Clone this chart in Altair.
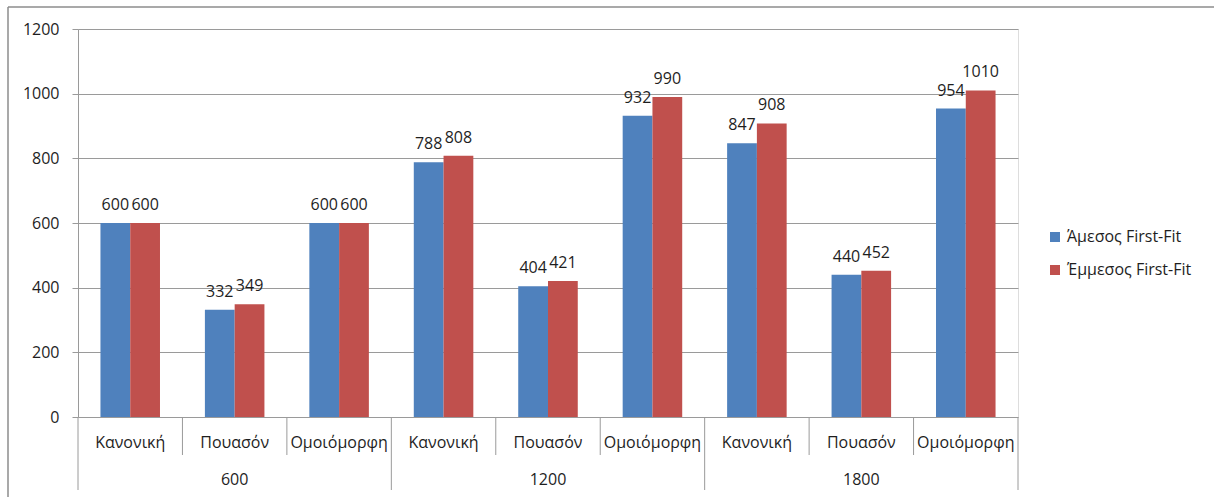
import altair as alt
import pandas as pd

# Data
group_labels = ["600", "1200", "1800"]
dist_labels = ["Κανονική", "Πουασόν", "Ομοιόμορφη"]
series_names = ["Άμεσος First-Fit", "Έμμεσος First-Fit"]
direct_values = [600, 332, 600, 788, 404, 932, 847, 440, 954]
indirect_values = [600, 349, 600, 808, 421, 990, 908, 452, 1010]
y_ticks = [0, 200, 400, 600, 800, 1000, 1200]
colors = ["#4F81BD", "#C0504D"]

FONT = "Open Sans"
TEXT_COLOR = "#1e1e1e"
LINE_COLOR = "#9a9a9a"

PAD_INNER = 0.43
PAD_OUTER = PAD_INNER / 2
PLOT_W = 940
STEP = PLOT_W / (9 - PAD_INNER + 2 * PAD_OUTER)
EDGE_SHIFT = PAD_INNER * STEP / 2  # from band start back to the category edge

cats = [str(i) for i in range(len(direct_values))]

rows = []
for i, c in enumerate(cats):
    rows.append({"cat": c, "series": series_names[0], "value": direct_values[i]})
    rows.append({"cat": c, "series": series_names[1], "value": indirect_values[i]})
bars_df = pd.DataFrame(rows)

cat_df = pd.DataFrame({
    "cat": cats,
    "dist": [dist_labels[i % 3] for i in range(len(cats))],
})
grp_df = pd.DataFrame({
    "cat": [cats[3 * g + 1] for g in range(len(group_labels))],
    "group": group_labels,
})
# separators: short ones between categories, long ones between groups
sep_df = pd.DataFrame({
    "cat": cats,
    "long": [i % 3 == 0 for i in range(len(cats))],
})

x_enc = alt.X("cat:O", sort=cats, axis=None,
              scale=alt.Scale(paddingInner=PAD_INNER, paddingOuter=PAD_OUTER))

bars = alt.Chart(bars_df).mark_bar().encode(
    x=x_enc,
    xOffset=alt.XOffset("series:N", sort=series_names,
                        scale=alt.Scale(paddingInner=0, paddingOuter=0)),
    y=alt.Y("value:Q", scale=alt.Scale(domain=[0, 1200]),
            axis=alt.Axis(values=y_ticks, format="d", title=None, grid=True,
                          gridColor=LINE_COLOR, domainColor=LINE_COLOR,
                          tickColor=LINE_COLOR, tickSize=6, labelPadding=13,
                          labelFont=FONT, labelFontSize=16, labelColor=TEXT_COLOR)),
    color=alt.Color("series:N", sort=series_names,
                    scale=alt.Scale(domain=series_names, range=colors),
                    legend=alt.Legend(title=None, orient="none", legendX=969, legendY=200,
                                      symbolType="square", symbolSize=100,
                                      symbolStrokeWidth=0, labelFont=FONT,
                                      labelFontSize=16, labelColor=TEXT_COLOR,
                                      rowPadding=17, labelOffset=4, padding=0)),
)

value_labels = alt.Chart(bars_df).mark_text(
    baseline="alphabetic", dy=-13, font=FONT, fontSize=16, color=TEXT_COLOR
).encode(
    x=alt.X("cat:O", sort=cats, axis=None),
    xOffset=alt.XOffset("series:N", sort=series_names),
    y="value:Q",
    text="value:Q",
)

cat_text = alt.Chart(cat_df).mark_text(
    baseline="alphabetic", font=FONT, fontSize=16, color=TEXT_COLOR
).encode(
    x=alt.X("cat:O", sort=cats, axis=None, bandPosition=0.5),
    y=alt.value(419),
    text="dist:N",
)

grp_text = alt.Chart(grp_df).mark_text(
    baseline="alphabetic", font=FONT, fontSize=16, color=TEXT_COLOR
).encode(
    x=alt.X("cat:O", sort=cats, axis=None, bandPosition=0.5),
    y=alt.value(456),
    text="group:N",
)

short_sep = alt.Chart(sep_df).transform_filter("!datum.long").mark_rule(
    color=LINE_COLOR, strokeWidth=1, xOffset=-EDGE_SHIFT
).encode(
    x=alt.X("cat:O", sort=cats, axis=None, bandPosition=0),
    y=alt.value(388), y2=alt.value(426),
)

long_sep = alt.Chart(sep_df).transform_filter("datum.long").mark_rule(
    color=LINE_COLOR, strokeWidth=1, xOffset=-EDGE_SHIFT
).encode(
    x=alt.X("cat:O", sort=cats, axis=None, bandPosition=0),
    y=alt.value(388), y2=alt.value(461),
)

end_sep = alt.Chart(sep_df.tail(1)).mark_rule(
    color=LINE_COLOR, strokeWidth=1, xOffset=EDGE_SHIFT
).encode(
    x=alt.X("cat:O", sort=cats, axis=None, bandPosition=1),
    y=alt.value(388), y2=alt.value(461),
)

# outer frame (top and left edges)
frame_top = alt.Chart(pd.DataFrame({"k": [0]})).mark_rule(
    color="#8c8c8c", strokeWidth=1.5
).encode(x=alt.value(-70), x2=alt.value(1140), y=alt.value(-22))
frame_left = alt.Chart(pd.DataFrame({"k": [0]})).mark_rule(
    color="#8c8c8c", strokeWidth=1.5
).encode(x=alt.value(-70), y=alt.value(-22), y2=alt.value(470))

chart = alt.layer(
    bars, value_labels, cat_text, grp_text, short_sep, long_sep, end_sep,
    frame_top, frame_left,
).properties(
    width=PLOT_W, height=388,
    autosize=alt.AutoSizeParams(type="none"),
    padding={"left": 78, "top": 29, "right": 196, "bottom": 80},
).configure_view(stroke=None).configure(background="white")

chart.save("out.html", embed_options={"renderer": "svg", "actions": False})
